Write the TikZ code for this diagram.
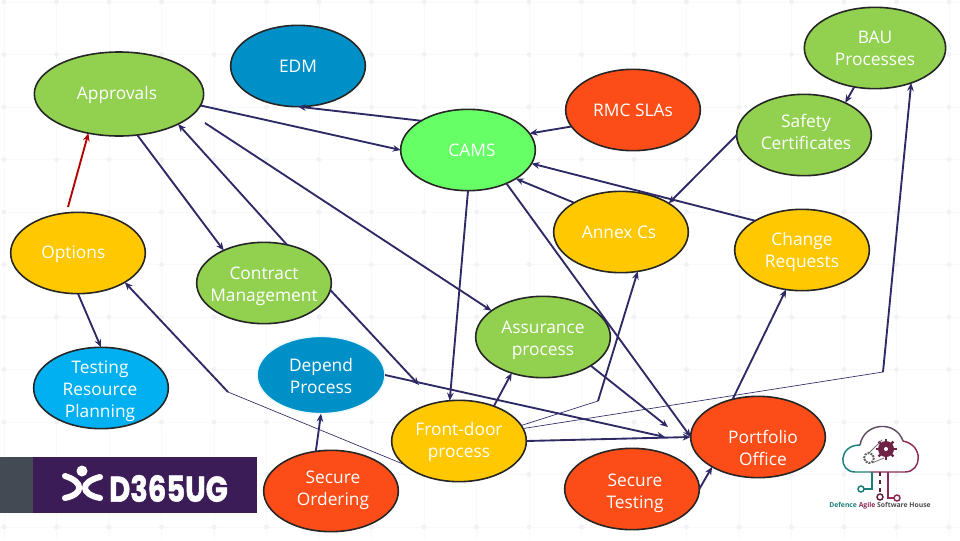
\documentclass[tikz,border=0pt]{standalone}
\usepackage{fontspec}
\setmainfont{Open Sans}
\newfontfamily\logofont[BoldFeatures={FakeBold=1.5}]{Poppins}
\usetikzlibrary{shapes.geometric, arrows.meta}
\definecolor{leaf}{HTML}{92D050}
\definecolor{sea}{HTML}{0090C8}
\definecolor{sky}{HTML}{00B0F0}
\definecolor{lime}{HTML}{66FF66}
\definecolor{flame}{HTML}{FC4C17}
\definecolor{amber}{HTML}{FFC800}
\definecolor{navy}{HTML}{2E2A66}
\definecolor{plum}{HTML}{3B1C56}
\definecolor{slate}{HTML}{434A54}
\definecolor{teal}{HTML}{1B7F79}
\definecolor{wine}{HTML}{8C2B55}
\definecolor{faint}{HTML}{F8F9FB}
\definecolor{dotcol}{HTML}{F1F2F6}
\tikzset{
  bubble/.style={ellipse, draw=black!85, line width=1.2pt, minimum width=101pt, minimum height=61pt,
    inner sep=0pt, outer sep=0pt, text=white, align=center, font=\fontsize{13}{16.5}\selectfont},
  bubbletext/.style={text=white, align=center, font=\fontsize{13}{16.5}\selectfont},
  tag/.style n args={3}{label={[bubbletext, xshift=#1, yshift=#2]center:#3}},
  link/.style={draw=navy, line width=1.4pt, -{Stealth[length=6pt,width=5pt]}},
  wire/.style={draw=navy, line width=0.5pt}
}
\begin{document}
\begin{tikzpicture}[x=0.75pt, y=-0.75pt]
\useasboundingbox (0,0) rectangle (960,540);
% backdrop
\foreach \i in {0,...,18} {
  \draw[faint, line width=0.4pt] ({4+52.5*\i},0) -- ({4+52.5*\i},540);
}
\foreach \j in {0,...,10} {
  \draw[faint, line width=0.4pt] (0,{2+52.5*\j}) -- (960,{2+52.5*\j});
  \foreach \i in {0,...,18} {
    \fill[dotcol] ({4+52.5*\i},{2+52.5*\j}) circle (2.5);
  }
}
% bubbles
\node[bubble, fill=leaf, minimum width=127pt, minimum height=63pt, tag={-1.5pt}{-0.75pt}{Approvals}] (Approvals) at (119,94) {};
\node[bubble, fill=sea] (EDM) at (298,66) {EDM};
\node[bubble, fill=lime, tag={3pt}{0pt}{CAMS}] (CAMS) at (468,150) {};
\node[bubble, fill=flame] (RMC) at (633,110) {RMC SLAs};
\node[bubble, fill=leaf, minimum width=106pt] (BAU) at (875,48) {BAU\\Processes};
\node[bubble, fill=leaf, tag={1.5pt}{2.25pt}{Safety\\Certificates}] (Safety) at (804,135) {};
\node[bubble, fill=amber, tag={-1.5pt}{0pt}{Annex Cs}] (Annex) at (621,232) {};
\node[bubble, fill=amber, tag={0pt}{-1.5pt}{Change\\Requests}] (Change) at (802,250) {};
\node[bubble, fill=amber, tag={-3.5pt}{-0.75pt}{Options}] (Options) at (78,253) {};
\node[bubble, fill=leaf, tag={0pt}{-2.25pt}{Contract\\Management}] (Contract) at (264,283) {};
\node[bubble, fill=sky, tag={-0.75pt}{-2.25pt}{Testing\\Resource\\Planning}] (Testing) at (101,388) {};
\node[bubble, fill=sea, draw=cyan!8, minimum width=96pt, minimum height=58pt, tag={0pt}{-0.75pt}{Depend\\Process}] (Depend) at (321,375) {};
\node[bubble, fill=leaf, tag={0pt}{-2.25pt}{Assurance\\process}] (Assurance) at (543,337) {};
\node[bubble, fill=amber, tag={0pt}{-0.75pt}{Front-door\\process}] (Front) at (459,441) {};
\node[bubble, fill=flame, tag={3.75pt}{-8pt}{Portfolio\\Office}] (Portfolio) at (758,437) {};
\node[bubble, fill=flame, tag={1.5pt}{0.75pt}{Secure\\Ordering}] (Ordering) at (331,491) {};
\node[bubble, fill=flame, tag={2.25pt}{-3pt}{Secure\\Testing}] (SecTest) at (632,489) {};
% free ends and bends
\coordinate (OptStart) at (68,207);
\coordinate (ApprStart) at (205,123);
\coordinate (ContractEnd) at (419,385);
\coordinate (DependEnd) at (665,437);
\coordinate (AssurEnd) at (668,427);
\coordinate (BendAnnex) at (598,401);
\coordinate (BendBAU) at (883,372);
\coordinate (BendOptions) at (228,392);
% connectors
\draw[link, draw=red!70!black] (OptStart) -- (Approvals.232.5);
\draw[link] (Approvals.352) -- (CAMS.west);
\draw[link] (CAMS.148) -- (EDM.south);
\draw[link] (RMC.195) -- (CAMS.15);
\draw[link] (Approvals.294) -- (Contract.141);
\draw[link] (Contract.59) -- (Approvals.333);
\draw[link] (ApprStart) -- (Assurance.153);
\draw[link] (CAMS.south) -- (Front.103);
\draw[link] (Annex.148) -- (CAMS.329);
\draw[link] (CAMS.319) -- (Portfolio.west);
\draw[link] (Change.148) -- (CAMS.348);
\draw[link] (Safety.west) -- (Annex.31);
\draw[link] (BAU.242) -- (Safety.38);
\draw[link] (Portfolio.124) -- (Change.248);
\draw[wire] (Front.14) -- (BendAnnex);
\draw[link] (BendAnnex) -- (Annex.293);
\draw[wire] (Front.11) -- (BendBAU);
\draw[link] (BendBAU) -- (BAU.316);
\draw[wire] (Front.203) -- (BendOptions);
\draw[link] (BendOptions) -- (Options.328);
\draw[link] (Options.south) -- (Testing.north);
\draw[link] (Ordering.111) -- (Depend.south);
\draw[link] (Contract.354) -- (ContractEnd);
\draw[link] (Depend.east) -- (DependEnd);
\draw[link] (Front.east) -- (Portfolio.west);
\draw[link] (Assurance.329) -- (AssurEnd);
\draw[link] (Front.45) -- (Assurance.229);
\draw[link] (SecTest.east) -- (Portfolio.213);
% banner
\fill[slate] (0,457) rectangle (33,513);
\fill[plum] (33,457) rectangle (257,513);
\node[text=white] (BannerText) at (168.5,488.5) {\resizebox{89pt}{20pt}{\logofont\bfseries D365UG}};
\fill[white] (82,471) circle (5.5);
\draw[white, line width=4.5pt, line cap=round] (65,476) .. controls (84,482) and (84,494) .. (65,498);
\draw[white, line width=4.5pt, line cap=round] (100,477) .. controls (80,482) and (80,494) .. (100,498);
% cloud logo
\draw[teal, line width=1.1pt] (870,472) -- (855,472) .. controls (838,472) and (838,445) .. (860,445);
\draw[wine!60!teal, line width=1.1pt] (860,445) .. controls (864,422) and (896,420) .. (903,441);
\draw[wine, line width=1.1pt] (903,441) .. controls (924,445) and (922,472) .. (905,472) -- (870,472);
\foreach \a in {0,45,...,315} {
  \draw[wine!80!black, line width=1.8pt] (886,449) -- ++(\a:10.5);
}
\fill[wine!80!black] (886,449) circle (8);
\fill[white] (886,449) circle (2);
\draw[black!55, line width=0.6pt] (869,453) -- (882,440);
\draw[black!55, line width=0.6pt] (872,463) -- (884,458);
\draw[black!60, line width=1.5pt, dash pattern=on 1.5pt off 0.8pt] (869,458) circle (5);
\draw[teal, line width=1.1pt] (872,472) -- (872,489) -- (864,489);
\draw[teal, line width=1.1pt] (861,489) circle (3);
\draw[wine!70!black, line width=1.1pt, dashed] (880,472) -- (880,494);
\draw[wine!70!black, line width=1.1pt] (880,497) circle (3);
\draw[wine, line width=1.1pt] (888,472) -- (888,498) -- (894,498);
\draw[wine, line width=1.1pt] (897,498) circle (3);
\node[font=\fontsize{5.1}{6}\selectfont\bfseries] (LogoText) at (880,506) {\textcolor{teal}{Defence} \textcolor{wine}{Agile} \textcolor{black!70}{Software House}};
\end{tikzpicture}
\end{document}
